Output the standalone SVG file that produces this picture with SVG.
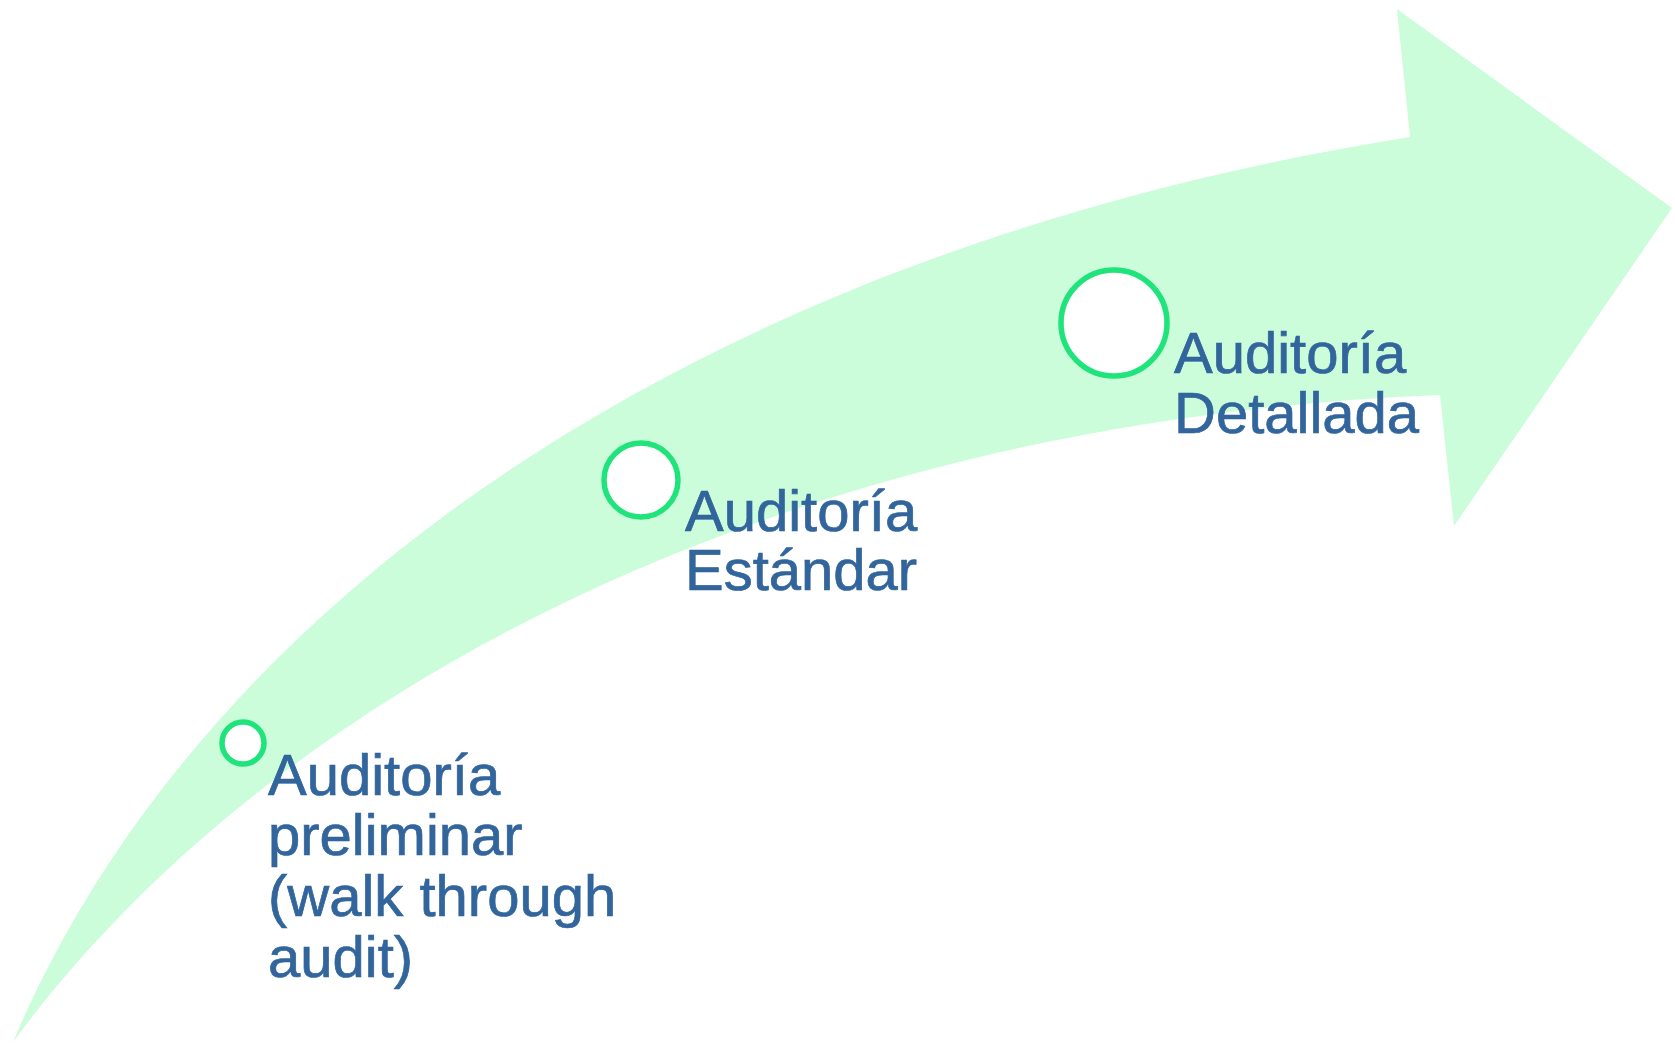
<svg xmlns="http://www.w3.org/2000/svg" width="1675" height="1044" viewBox="0 0 1675 1044">
  <style>
    .band { fill: #ccfddb; }
    .dot { fill: #ffffff; stroke: #1ee47b; stroke-width: 5.5; }
    .label { font-family: "Liberation Sans", Arial, sans-serif; font-size: 58px; fill: #31659c; stroke: #31659c; stroke-width: 0.7; }
  </style>
  <rect width="1675" height="1044" fill="#ffffff"/>
  <g id="connectors">
    <!-- curved rising arrow -->
    <path class="band" d="M13,1042 C200,600 700,250 1410,137 L1397,9 L1672,208 L1454,526 L1440,395 C800,420 280,680 13,1042 Z"/>
  </g>
  <g id="node-preliminar">
    <circle class="dot" cx="243" cy="743" r="21"/>
    <text class="label" x="268" y="795">Auditoría</text>
    <text class="label" x="268" y="855">preliminar</text>
    <text class="label" x="268" y="916">(walk through</text>
    <text class="label" x="268" y="977">audit)</text>
  </g>
  <g id="node-estandar">
    <circle class="dot" cx="641" cy="480" r="37"/>
    <text class="label" x="685" y="531">Auditoría</text>
    <text class="label" x="685" y="590">Estándar</text>
  </g>
  <g id="node-detallada">
    <circle class="dot" cx="1114" cy="323" r="53"/>
    <text class="label" x="1174" y="373">Auditoría</text>
    <text class="label" x="1174" y="433">Detallada</text>
  </g>
</svg>
